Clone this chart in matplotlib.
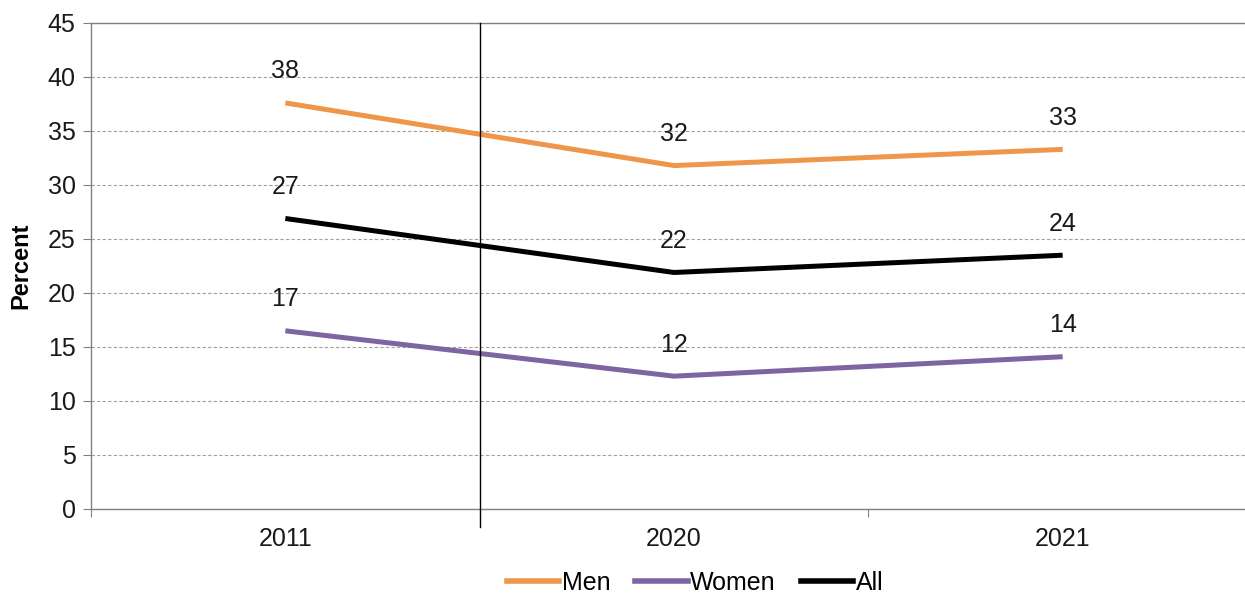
import matplotlib.pyplot as plt
from matplotlib.lines import Line2D

plt.rcParams['font.family'] = ['Liberation Sans', 'DejaVu Sans']

years = ['2011', '2020', '2021']
men = [37.6, 31.8, 33.3]
women = [16.5, 12.3, 14.1]
all_people = [26.9, 21.9, 23.5]

series = [
    ('Men', men, '#F0964A'),
    ('Women', women, '#7E64A0'),
    ('All', all_people, '#000000'),
]


def label_value(v):
    # round half up, as the spreadsheet does
    return str(int(v + 0.5))


fig = plt.figure(figsize=(12.45, 5.95), dpi=100)
ax = fig.add_axes([91 / 1245, 86 / 595, 1166 / 1245, 486 / 595])

x = list(range(len(years)))
for name, vals, color in series:
    ax.plot(x, vals, color=color, lw=3.6, solid_capstyle='butt',
            solid_joinstyle='miter', zorder=3)
    for xi, v in zip(x, vals):
        ax.annotate(label_value(v), (xi, v), xytext=(0, 14),
                    textcoords='offset points', ha='center', va='bottom',
                    fontsize=18, color='#1a1a1a')

ax.set_xlim(-0.5, 2.5)
ax.set_ylim(0, 45)
ax.set_yticks(range(0, 46, 5))
ax.yaxis.grid(True, linestyle=(0, (3, 2)), color='#a0a0a0', lw=0.8)
ax.set_axisbelow(True)

# category ticks sit on the boundaries between years
ax.set_xticks([-0.5, 0.5, 1.5, 2.5])
ax.set_xticklabels([])
ax.set_xticks(x, minor=True)
ax.set_xticklabels(years, minor=True)
ax.tick_params(axis='x', which='minor', length=0, pad=13, labelsize=18,
               labelcolor='#1a1a1a')
ax.tick_params(axis='x', which='major', length=6, color='#808080')
ax.tick_params(axis='y', length=6, color='#808080', labelsize=18,
               labelcolor='#1a1a1a', pad=5)

for side in ['left', 'bottom', 'top']:
    ax.spines[side].set_color('#808080')
    ax.spines[side].set_linewidth(1.0)
ax.spines['right'].set_visible(False)

# break line between 2011 and 2020
ax.plot([0.5, 0.5], [-1.7, 45], color='black', lw=1.0, clip_on=False, zorder=4)

ax.set_ylabel('Percent', fontsize=17, fontweight='bold')
ax.yaxis.set_label_coords(-0.05, 0.5)

handles = [Line2D([], [], color=c, lw=4) for _, _, c in series]
fig.legend(handles, [s[0] for s in series], loc='center',
           bbox_to_anchor=(695 / 1245, 1 - 583 / 595), ncol=3, frameon=False,
           fontsize=18, handlelength=2.1, handletextpad=0.1, columnspacing=1.0)

fig.savefig('out.png', dpi=100)
